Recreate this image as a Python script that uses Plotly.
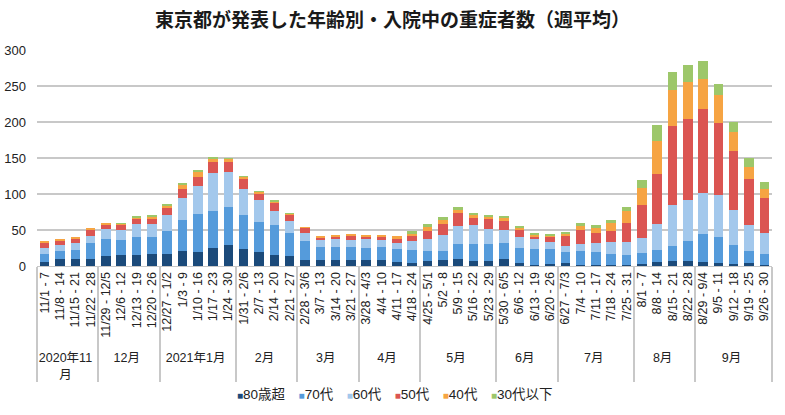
import plotly.graph_objects as go

months = (["2020年11<br>月"] * 4 + ["12月"] * 4 + ["2021年1月"] * 5 + ["2月"] * 4 +
          ["3月"] * 4 + ["4月"] * 4 + ["5月"] * 5 + ["6月"] * 4 + ["7月"] * 5 +
          ["8月"] * 4 + ["9月"] * 5)

weeks = ["11/1 - 7", "11/8 - 14", "11/15 - 21", "11/22 - 28",
         "11/29 - 12/5", "12/6 - 12", "12/13 - 19", "12/20 - 26",
         "12/27 - 1/2", "1/3 - 9", "1/10 - 16", "1/17 - 23", "1/24 - 30",
         "1/31 - 2/6", "2/7 - 13", "2/14 - 20", "2/21 - 27",
         "2/28 - 3/6", "3/7 - 13", "3/14 - 20", "3/21 - 27",
         "3/28 - 4/3", "4/4 - 10", "4/11 - 17", "4/18 - 24",
         "4/25 - 5/1", "5/2 - 8", "5/9 - 15", "5/16 - 22", "5/23 - 29",
         "5/30 - 6/5", "6/6 - 12", "6/13 - 19", "6/20 - 26",
         "6/27 - 7/3", "7/4 - 10", "7/11 - 17", "7/18 - 24", "7/25 - 31",
         "8/1 - 7", "8/8 - 14", "8/15 - 21", "8/22 - 28",
         "8/29 - 9/4", "9/5 - 11", "9/12 - 18", "9/19 - 25", "9/26 - 30"]

age80 = [6, 10, 10, 10, 14, 15, 15, 16, 16, 21, 19, 25, 29, 23, 19, 15, 14,
         8, 8, 8, 8, 8, 8, 6, 4, 7, 8, 10, 7, 7, 10, 4, 2, 3, 4, 2, 1.5, 1, 1,
         3, 5, 7, 7, 6, 4, 3, 4, 2]
age70 = [10, 11, 12, 22, 24, 21, 25, 24, 33, 43, 53, 52, 53, 48, 42, 42, 32,
         27, 19, 19, 19, 17, 18, 17, 18, 14, 13, 20, 23, 24, 22, 21, 21, 21,
         16, 19, 18, 16, 14, 15, 17, 21, 28, 39, 36, 26, 17, 14]
age60 = [9, 8, 10, 10, 13, 14, 18, 18, 22, 30, 39, 52, 48, 36, 30, 20, 16,
         11, 9, 10, 9, 12, 10, 9, 13, 17, 22, 25, 27, 21, 18, 15, 14, 10,
         8, 10, 13, 16, 18, 21, 36, 57, 57, 56, 59, 49, 36, 30]
age50 = [7, 6, 6, 9, 7, 7, 7, 7, 9, 13, 12, 16, 14, 14, 10, 10, 9,
         7, 3, 4, 5, 4, 4, 6, 7, 10, 15, 19, 10, 13, 12.5, 10, 3.5, 7,
         14, 19, 14, 15.5, 27, 46, 70, 109, 112, 117, 100, 82, 64, 49]
age40 = [2, 2, 1, 1, 1.5, 1.5, 3, 4, 4, 6, 8, 4, 5, 3, 2.5, 3, 2,
         1, 2, 2, 3, 2, 3, 3, 3, 6, 6, 4, 4, 3.5, 4, 4, 3, 2,
         3, 6, 6, 11, 16, 24, 46, 50, 51, 42, 38, 26.5, 17, 11.5]
age30 = [0, 0, 0, 0, 0, 1, 1, 1, 1.5, 2, 2, 2, 1, 1, 0.5, 1, 0.6,
         0, 0, 0, 0, 0, 0, 0, 3, 4, 4, 3.5, 2.5, 2, 3, 1.5, 1, 1,
         1, 3.5, 4, 4, 6, 10.5, 22, 25, 24, 25, 16, 14, 12.5, 9.5]

series = [
    ("80歳超", age80, "#1B4A7A"),
    ("70代", age70, "#559BDB"),
    ("60代", age60, "#A3C8EC"),
    ("50代", age50, "#DB5552"),
    ("40代", age40, "#F6A443"),
    ("30代以下", age30, "#9DC76A"),
]

font_family = "Liberation Sans, Noto Sans CJK JP, sans-serif"

fig = go.Figure()
for name, vals, color in series:
    fig.add_trace(go.Bar(
        x=[months, weeks], y=vals, name=name, showlegend=False,
        marker=dict(color=color, line=dict(width=0)),
    ))

# compact legend (square marker glyph + label), as in the reference
legend_text = "\u3000".join(
    f"<span style='color:{c};font-size:10px'>■</span>{n}" for n, _, c in series
)
fig.add_annotation(
    text=legend_text, showarrow=False,
    xref="paper", yref="paper", x=0.487, xanchor="center",
    y=-0.594, yanchor="middle",
    font=dict(family=font_family, size=13.5, color="#222222"),
)

fig.update_layout(
    barmode="stack",
    bargap=0.38,
    width=785, height=415,
    margin=dict(l=37, r=13, t=50, b=149),
    paper_bgcolor="white",
    plot_bgcolor="white",
    font=dict(family=font_family, size=13, color="#222222"),
    title=dict(
        text="<b>東京都が発表した年齢別・入院中の重症者数（週平均）</b>",
        x=0.5, xanchor="center", y=0.952, yanchor="middle",
        font=dict(family="Noto Sans CJK JP, sans-serif", size=19, color="#1a1a1a"),
    ),
    xaxis=dict(
        type="multicategory",
        tickangle=-90,
        automargin=False,
        tickfont=dict(family=font_family, size=12.5, color="#222222"),
        showdividers=True, dividercolor="#C8C8C8", dividerwidth=2,
        showline=True, linecolor="#C8C8C8", linewidth=1,
        ticks="",
    ),
    yaxis=dict(
        range=[0, 300], dtick=50,
        automargin=False,
        showgrid=True, gridcolor="#C8C8C8", gridwidth=1.5,
        zeroline=False,
        tickfont=dict(family=font_family, size=13, color="#222222"),
        ticks="", ticklabelstandoff=10,
    ),
)

fig.write_html("out.html")
